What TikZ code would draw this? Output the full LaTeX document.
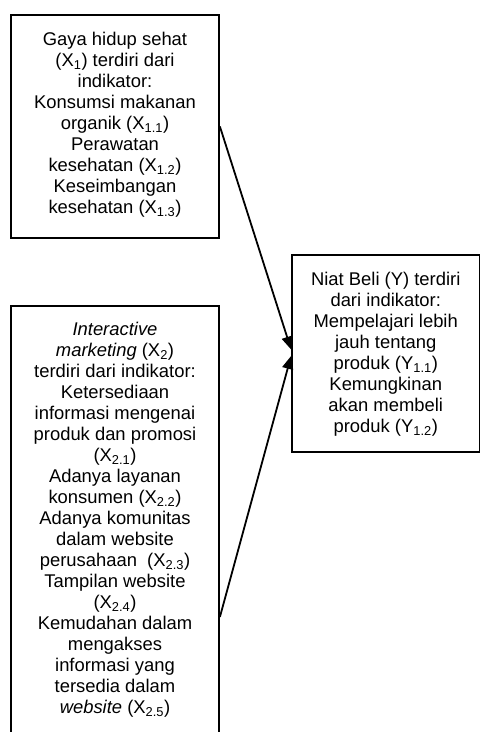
\documentclass[tikz,border=0pt]{standalone}
\usepackage{fontspec}
\setmainfont{Liberation Sans}
\usetikzlibrary{arrows.meta, positioning}
\tikzset{varbox/.style={rectangle, draw, line width=1.8pt}}
\tikzset{vartext/.style={align=center, inner sep=0pt, anchor=north,
font=\fontsize{18.4}{21}\selectfont}}
\tikzset{link/.style={line width=1.8pt, -{Triangle[length=13pt, width=11pt]}}}

\begin{document}
\begin{tikzpicture}[x=1pt, y=1pt]
\useasboundingbox (0,0) rectangle (481,732);
\clip (0,0) rectangle (481,732);

\node[varbox, minimum width=208pt, minimum height=223pt] (X1) at (115, 605.5) {};
\node[varbox, minimum width=208pt, minimum height=622pt] (X2) at (115, 115) {};
\node[varbox, minimum width=187.5pt, minimum height=197pt] (Y) at (385.75, 378.5) {};

\node[vartext, below=18pt of X1.north] (X1text) {Gaya hidup sehat\\
(X\textsubscript{1}) terdiri dari\\
indikator:\\
Konsumsi makanan\\
organik (X\textsubscript{1.1})\\
Perawatan\\
kesehatan (X\textsubscript{1.2})\\
Keseimbangan\\
kesehatan (X\textsubscript{1.3})};

\node[vartext, below=17pt of X2.north] (X2text) {\textit{Interactive}\\
\textit{marketing} (X\textsubscript{2})\\
terdiri dari indikator:\\
Ketersediaan\\
informasi mengenai\\
produk dan promosi\\
(X\textsubscript{2.1})\\
Adanya layanan\\
konsumen (X\textsubscript{2.2})\\
Adanya komunitas\\
dalam website\\
perusahaan\ \ (X\textsubscript{2.3})\\
Tampilan website\\
(X\textsubscript{2.4})\\
Kemudahan dalam\\
mengakses\\
informasi yang\\
tersedia dalam\\
\textit{website} (X\textsubscript{2.5})};

\node[vartext, below=18pt of Y.north] (Ytext) {Niat Beli (Y) terdiri\\
dari indikator:\\
Mempelajari lebih\\
jauh tentang\\
produk (Y\textsubscript{1.1})\\
Kemungkinan\\
akan membeli\\
produk (Y\textsubscript{1.2})};

\draw [link] (X1.east) -- ([yshift=4pt]Y.west);
\draw [link] (X2.east) -- ([yshift=-2.5pt]Y.west);

\end{tikzpicture}
\end{document}
